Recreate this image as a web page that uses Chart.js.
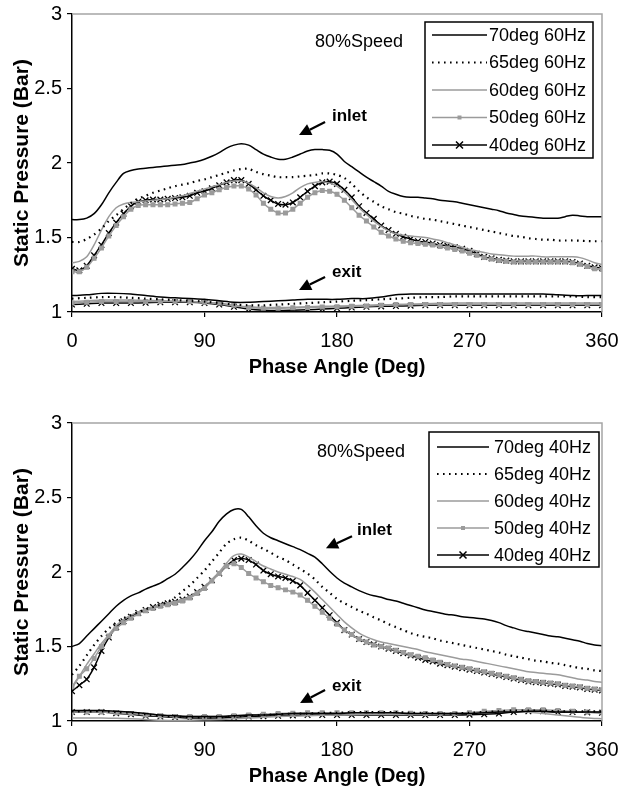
<!DOCTYPE html>
<html><head><meta charset="utf-8">
<script src="https://cdn.jsdelivr.net/npm/chart.js@4.4.0/dist/chart.umd.min.js"></script>
<style>
html,body{margin:0;padding:0;background:#fff;width:619px;height:786px;overflow:hidden;}
.wrap{position:absolute;left:0;width:619px;height:377px;}
#w1{top:0;} #w2{top:409px;}
</style></head><body>
<div class="wrap" id="w1"><canvas id="c1"></canvas></div>
<div class="wrap" id="w2"><canvas id="c2"></canvas></div>
<script>
// ---------- DATA ----------
const phase5 = [0,5,10,15,20,25,30,35,40,45,50,55,60,65,70,75,80,85,90,95,100,105,110,115,
  120,125,130,135,140,145,150,155,160,165,170,175,180,185,190,195,200,205,210,215,220,225,230,235,
  240,245,250,255,260,265,270,275,280,285,290,295,300,305,310,315,320,325,330,335,340,345,350,355,360];
const phase10 = [0,10,20,30,40,50,60,70,80,90,100,110,120,130,140,150,160,170,180,190,200,210,220,230,
  240,250,260,270,280,290,300,310,320,330,340,350,360];
const xTicks = [0,90,180,270,360];
const yTicks = [1,1.5,2,2.5,3];

const labels60 = ['70deg 60Hz','65deg 60Hz','60deg 60Hz','50deg 60Hz','40deg 60Hz'];
const labels40 = ['70deg 40Hz','65deg 40Hz','60deg 40Hz','50deg 40Hz','40deg 40Hz'];

// 60 Hz — inlet
const inlet70_60 = [1.62,1.62,1.63,1.66,1.72,1.80,1.87,1.93,1.95,1.96,1.965,1.97,
  1.975,1.98,1.985,1.99,2.00,2.01,2.025,2.045,2.07,2.10,2.12,2.13,
  2.12,2.09,2.06,2.04,2.025,2.025,2.04,2.06,2.08,2.09,2.09,2.085,
  2.06,2.01,1.975,1.94,1.905,1.875,1.845,1.81,1.79,1.775,1.77,1.77,
  1.765,1.76,1.75,1.745,1.74,1.73,1.72,1.71,1.70,1.69,1.68,1.665,
  1.655,1.645,1.64,1.635,1.63,1.63,1.63,1.64,1.65,1.645,1.64,1.64,
  1.64];
const inlet65_60 = [1.47,1.47,1.49,1.52,1.56,1.61,1.65,1.69,1.73,1.76,1.78,1.80,
  1.815,1.83,1.845,1.855,1.865,1.88,1.89,1.905,1.92,1.935,1.95,1.96,
  1.96,1.94,1.925,1.915,1.905,1.905,1.905,1.91,1.915,1.92,1.93,1.93,
  1.92,1.90,1.86,1.81,1.77,1.74,1.71,1.69,1.67,1.66,1.645,1.635,
  1.625,1.62,1.61,1.60,1.59,1.58,1.57,1.56,1.55,1.54,1.53,1.52,
  1.51,1.505,1.495,1.49,1.485,1.485,1.48,1.48,1.48,1.478,1.476,1.475,
  1.475];
const inlet60_60 = [1.33,1.34,1.37,1.45,1.55,1.64,1.70,1.725,1.735,1.74,1.745,1.75,
  1.755,1.76,1.77,1.78,1.795,1.81,1.825,1.84,1.855,1.87,1.88,1.88,
  1.865,1.835,1.80,1.775,1.765,1.775,1.80,1.835,1.86,1.87,1.875,1.865,
  1.845,1.805,1.755,1.70,1.655,1.61,1.575,1.545,1.525,1.515,1.51,1.505,
  1.50,1.49,1.48,1.465,1.45,1.435,1.42,1.41,1.40,1.39,1.385,1.38,
  1.375,1.375,1.375,1.375,1.37,1.37,1.37,1.37,1.37,1.365,1.35,1.33,
  1.32];
const inlet50_60 = [1.27,1.27,1.30,1.36,1.43,1.51,1.58,1.64,1.69,1.715,1.72,1.72,
  1.72,1.72,1.725,1.73,1.735,1.76,1.785,1.80,1.82,1.835,1.845,1.845,
  1.825,1.785,1.73,1.69,1.665,1.665,1.69,1.73,1.77,1.80,1.815,1.81,
  1.79,1.75,1.70,1.65,1.61,1.57,1.535,1.51,1.49,1.475,1.465,1.46,
  1.455,1.45,1.44,1.43,1.42,1.41,1.395,1.38,1.365,1.355,1.345,1.34,
  1.335,1.335,1.335,1.335,1.335,1.335,1.335,1.335,1.33,1.32,1.305,1.29,
  1.285];
const inlet40_60 = [1.29,1.28,1.31,1.38,1.45,1.53,1.60,1.66,1.71,1.74,1.75,1.755,
  1.755,1.76,1.765,1.77,1.78,1.80,1.81,1.83,1.85,1.87,1.885,1.885,
  1.86,1.82,1.78,1.75,1.725,1.72,1.735,1.77,1.81,1.845,1.87,1.875,
  1.86,1.82,1.77,1.71,1.665,1.625,1.58,1.55,1.525,1.505,1.49,1.475,
  1.47,1.46,1.45,1.445,1.435,1.425,1.41,1.39,1.37,1.36,1.35,1.345,
  1.34,1.34,1.34,1.34,1.34,1.34,1.34,1.34,1.335,1.325,1.31,1.30,
  1.295];
// 60 Hz — exit
const exit70_60 = [1.11,1.115,1.125,1.125,1.12,1.11,1.10,1.095,1.09,1.085,1.075,1.065,
  1.065,1.07,1.075,1.08,1.085,1.085,1.085,1.09,1.09,1.10,1.115,1.12,
  1.12,1.12,1.12,1.12,1.12,1.12,1.12,1.12,1.12,1.115,1.11,1.11,1.11];
const exit65_60 = [1.09,1.095,1.10,1.10,1.095,1.09,1.085,1.08,1.075,1.07,1.06,1.05,
  1.045,1.045,1.05,1.055,1.06,1.065,1.07,1.075,1.08,1.085,1.09,1.095,
  1.10,1.10,1.105,1.105,1.105,1.105,1.105,1.105,1.105,1.105,1.105,1.10,1.10];
const exit60_60 = [1.07,1.075,1.08,1.08,1.08,1.078,1.075,1.072,1.07,1.065,1.055,1.04,
  1.035,1.03,1.03,1.032,1.035,1.038,1.04,1.042,1.045,1.048,1.05,1.052,
  1.055,1.058,1.06,1.06,1.06,1.06,1.06,1.06,1.06,1.06,1.06,1.06,1.06];
const exit50_60 = [1.06,1.065,1.07,1.07,1.07,1.07,1.07,1.07,1.07,1.065,1.06,1.045,
  1.03,1.025,1.025,1.028,1.03,1.033,1.035,1.038,1.04,1.045,1.05,1.05,
  1.05,1.05,1.05,1.05,1.05,1.05,1.05,1.05,1.05,1.05,1.05,1.05,1.05];
const exit40_60 = [1.05,1.055,1.06,1.06,1.06,1.062,1.065,1.065,1.065,1.06,1.05,1.035,
  1.02,1.012,1.01,1.012,1.015,1.02,1.025,1.03,1.035,1.038,1.04,1.042,
  1.045,1.045,1.045,1.045,1.045,1.045,1.045,1.045,1.045,1.045,1.045,1.045,1.045];

// 40 Hz — inlet
const inlet70_40 = [1.50,1.52,1.57,1.62,1.67,1.72,1.77,1.81,1.84,1.86,1.885,1.905,
  1.925,1.955,1.985,2.03,2.08,2.14,2.21,2.27,2.34,2.39,2.42,2.42,
  2.37,2.31,2.26,2.23,2.21,2.19,2.17,2.15,2.125,2.10,2.055,2.005,
  1.96,1.925,1.90,1.875,1.855,1.84,1.83,1.815,1.805,1.79,1.775,1.76,
  1.745,1.735,1.725,1.715,1.71,1.70,1.695,1.69,1.685,1.675,1.66,1.64,
  1.625,1.61,1.60,1.59,1.58,1.57,1.565,1.555,1.545,1.535,1.52,1.51,
  1.505];
const inlet65_40 = [1.31,1.37,1.44,1.51,1.57,1.62,1.66,1.69,1.71,1.73,1.75,1.765,
  1.78,1.80,1.83,1.87,1.91,1.96,2.01,2.07,2.13,2.19,2.22,2.23,
  2.21,2.18,2.155,2.13,2.10,2.08,2.05,2.02,1.99,1.95,1.90,1.86,
  1.82,1.79,1.765,1.74,1.72,1.695,1.675,1.65,1.63,1.61,1.59,1.575,
  1.565,1.555,1.54,1.53,1.52,1.51,1.50,1.49,1.48,1.47,1.46,1.445,
  1.435,1.425,1.415,1.405,1.40,1.39,1.385,1.375,1.365,1.355,1.35,1.34,
  1.335];
const inlet60_40 = [1.22,1.30,1.38,1.45,1.52,1.58,1.64,1.68,1.71,1.73,1.75,1.765,
  1.78,1.79,1.80,1.815,1.835,1.865,1.90,1.95,2.00,2.06,2.11,2.12,
  2.10,2.07,2.04,2.02,2.00,1.985,1.97,1.95,1.91,1.865,1.815,1.765,
  1.715,1.665,1.625,1.59,1.565,1.545,1.53,1.52,1.51,1.50,1.49,1.48,
  1.465,1.455,1.445,1.435,1.425,1.415,1.41,1.40,1.39,1.38,1.37,1.36,
  1.35,1.34,1.33,1.325,1.32,1.315,1.31,1.30,1.29,1.28,1.275,1.265,
  1.26];
const inlet50_40 = [1.23,1.30,1.35,1.42,1.50,1.57,1.62,1.66,1.69,1.72,1.74,1.755,
  1.77,1.78,1.79,1.805,1.825,1.855,1.89,1.94,1.99,2.04,2.055,2.03,
  1.99,1.96,1.935,1.91,1.895,1.88,1.865,1.845,1.81,1.77,1.73,1.69,
  1.65,1.61,1.58,1.55,1.53,1.51,1.50,1.49,1.475,1.46,1.445,1.435,
  1.425,1.41,1.395,1.38,1.37,1.36,1.35,1.34,1.33,1.32,1.31,1.30,
  1.29,1.28,1.27,1.265,1.26,1.255,1.25,1.24,1.235,1.23,1.22,1.215,
  1.21];
const inlet40_40 = [1.20,1.24,1.28,1.36,1.47,1.56,1.63,1.67,1.70,1.725,1.745,1.765,
  1.78,1.79,1.80,1.815,1.835,1.865,1.90,1.945,1.99,2.04,2.08,2.09,
  2.08,2.05,2.01,1.985,1.97,1.96,1.94,1.91,1.86,1.81,1.76,1.71,
  1.66,1.61,1.58,1.55,1.53,1.515,1.50,1.485,1.47,1.455,1.44,1.425,
  1.41,1.40,1.385,1.375,1.365,1.355,1.345,1.335,1.325,1.315,1.305,1.295,
  1.285,1.275,1.265,1.26,1.255,1.25,1.245,1.235,1.23,1.225,1.215,1.21,
  1.205];
// 40 Hz — exit
const exit70_40 = [1.07,1.07,1.07,1.065,1.06,1.05,1.04,1.035,1.03,1.03,1.03,1.035,
  1.04,1.04,1.045,1.05,1.05,1.05,1.05,1.055,1.055,1.055,1.055,1.05,
  1.05,1.05,1.05,1.05,1.055,1.06,1.06,1.065,1.065,1.06,1.06,1.06,1.06];
const exit65_40 = [1.065,1.065,1.065,1.06,1.055,1.045,1.035,1.03,1.025,1.025,1.025,1.03,
  1.035,1.04,1.045,1.05,1.05,1.055,1.055,1.06,1.06,1.06,1.06,1.055,
  1.055,1.05,1.05,1.055,1.06,1.065,1.07,1.07,1.07,1.065,1.065,1.065,1.065];
const exit60_40 = [1.02,1.02,1.02,1.018,1.015,1.01,1.005,1.003,1.005,1.008,1.01,1.015,
  1.02,1.025,1.03,1.032,1.035,1.038,1.04,1.042,1.045,1.045,1.045,1.045,
  1.045,1.048,1.05,1.055,1.06,1.063,1.065,1.06,1.05,1.04,1.03,1.02,1.015];
const exit50_40 = [1.06,1.06,1.06,1.055,1.05,1.04,1.035,1.03,1.03,1.03,1.03,1.035,
  1.04,1.045,1.05,1.052,1.055,1.055,1.055,1.055,1.055,1.055,1.055,1.052,
  1.05,1.05,1.05,1.055,1.065,1.07,1.075,1.075,1.075,1.07,1.065,1.06,1.06];
const exit40_40 = [1.06,1.06,1.06,1.052,1.045,1.035,1.03,1.025,1.02,1.02,1.02,1.025,
  1.03,1.032,1.035,1.038,1.04,1.04,1.04,1.04,1.04,1.04,1.04,1.04,
  1.04,1.04,1.04,1.042,1.045,1.05,1.06,1.065,1.065,1.06,1.06,1.058,1.055];

// ---------- STYLE ----------
const FONT = "'Liberation Sans', Arial, Helvetica, sans-serif";
const GRAY = '#9b9b9b';
const styles = [
  {color:'#000', width:1.5, dash:[], point:null, radius:0},
  {color:'#000', width:2.2, dash:[1.6,4.4], point:null, radius:0},
  {color:GRAY, width:1.5, dash:[], point:null, radius:0},
  {color:GRAY, width:1.5, dash:[], point:'rect', radius:2.6},
  {color:'#000', width:1.5, dash:[], point:'crossRot', radius:4}
];

function xy(xs, ys){ return xs.map((x,i)=>({x:x, y:ys[i]})); }

function buildDatasets(labels, inlets, exits){
  const ds = [];
  inlets.forEach((arr,i)=>{
    const s = styles[i];
    ds.push({label:labels[i], data:xy(phase5, arr), borderColor:s.color, borderWidth:s.width,
      borderDash:s.dash, pointStyle:s.point||'circle', pointRadius:s.radius,
      pointBackgroundColor:s.color, pointBorderColor:s.color, pointBorderWidth:1.3,
      tension:0.3, fill:false});
  });
  exits.forEach((arr,i)=>{
    const s = styles[i];
    ds.push({label:labels[i]+' exit', data:xy(phase10, arr), borderColor:s.color, borderWidth:s.width,
      borderDash:s.dash, pointStyle:s.point||'circle', pointRadius:s.radius,
      pointBackgroundColor:s.color, pointBorderColor:s.color, pointBorderWidth:1.3,
      tension:0.3, fill:false});
  });
  return ds;
}

function arrow(ctx, x1, y1, x2, y2){
  const ang = Math.atan2(y2-y1, x2-x1);
  const L = 12, W = 6;
  const bx = x2 - L*Math.cos(ang), by = y2 - L*Math.sin(ang);
  ctx.beginPath(); ctx.moveTo(x1,y1); ctx.lineTo(bx,by);
  ctx.lineWidth = 2.2; ctx.strokeStyle='#000'; ctx.stroke();
  ctx.beginPath(); ctx.moveTo(x2,y2);
  ctx.lineTo(bx + W*Math.sin(ang), by - W*Math.cos(ang));
  ctx.lineTo(bx - W*Math.sin(ang), by + W*Math.cos(ang));
  ctx.closePath(); ctx.fillStyle='#000'; ctx.fill();
}

const decor = {
  id:'decor',
  afterDraw(chart, args, o){
    const {ctx, chartArea:ca, scales:{x, y}} = chart;
    ctx.save();
    // gray frame on top/right
    ctx.strokeStyle = '#a5a5a5'; ctx.lineWidth = 1.5;
    ctx.beginPath(); ctx.moveTo(ca.left, ca.top); ctx.lineTo(ca.right, ca.top); ctx.lineTo(ca.right, ca.bottom); ctx.stroke();
    // notes
    ctx.fillStyle='#000'; ctx.textBaseline='middle'; ctx.textAlign='left';
    ctx.font = '18px ' + FONT;
    ctx.fillText('80%Speed', x.getPixelForValue(o.speed[0]), y.getPixelForValue(o.speed[1]));
    ctx.font = 'bold 17px ' + FONT;
    ctx.fillText('inlet', x.getPixelForValue(o.inlet[0]), y.getPixelForValue(o.inlet[1]));
    ctx.fillText('exit', x.getPixelForValue(o.exit[0]), y.getPixelForValue(o.exit[1]));
    arrow(ctx, x.getPixelForValue(o.inletArrow[0]), y.getPixelForValue(o.inletArrow[1]),
               x.getPixelForValue(o.inletArrow[2]), y.getPixelForValue(o.inletArrow[3]));
    arrow(ctx, x.getPixelForValue(o.exitArrow[0]), y.getPixelForValue(o.exitArrow[1]),
               x.getPixelForValue(o.exitArrow[2]), y.getPixelForValue(o.exitArrow[3]));
    // legend box
    const lb = o.legend;
    const left = ca.right - lb.insetRight - lb.w, top = ca.top + lb.insetTop;
    ctx.fillStyle = '#fff'; ctx.fillRect(left, top, lb.w, lb.h);
    ctx.strokeStyle = '#000'; ctx.lineWidth = 1.5; ctx.strokeRect(left, top, lb.w, lb.h);
    o.labels.forEach((lab, i)=>{
      const s = styles[i];
      const yy = top + lb.first + i*lb.step;
      ctx.beginPath(); ctx.setLineDash(s.dash); ctx.strokeStyle = s.color; ctx.lineWidth = s.width;
      ctx.moveTo(left+lb.l0, yy); ctx.lineTo(left+lb.l1, yy); ctx.stroke(); ctx.setLineDash([]);
      const cx = left + (lb.l0+lb.l1)/2;
      if (s.point === 'rect'){
        ctx.fillStyle = s.color; ctx.fillRect(cx-2, yy-2, 4, 4);
      } else if (s.point === 'crossRot'){
        ctx.beginPath(); ctx.strokeStyle = s.color; ctx.lineWidth = 1.5;
        ctx.moveTo(cx-3.5, yy-3.5); ctx.lineTo(cx+3.5, yy+3.5);
        ctx.moveTo(cx-3.5, yy+3.5); ctx.lineTo(cx+3.5, yy-3.5); ctx.stroke();
      }
      ctx.fillStyle = '#000'; ctx.font = '18px ' + FONT; ctx.textAlign='left'; ctx.textBaseline='middle';
      ctx.fillText(lab, left + lb.tx, yy + 1);
    });
    ctx.restore();
  }
};

function makeChart(id, labels, inlets, exits, notes){
  return new Chart(document.getElementById(id), {
    type:'line',
    data:{datasets: buildDatasets(labels, inlets, exits)},
    plugins:[decor],
    options:{
      responsive:true, maintainAspectRatio:false, animation:false,
      layout:{padding:{top:14, right:17, left:0, bottom:0}},
      plugins:{legend:{display:false}, tooltip:{enabled:false}, decor: Object.assign({labels:labels}, notes)},
      scales:{
        x:{type:'linear', min:0, max:360,
          afterBuildTicks(s){ s.ticks = xTicks.map(v=>({value:v})); },
          ticks:{color:'#000', font:{family:FONT, size:20}, padding:12, maxRotation:0, autoSkip:false,
                 callback:(v)=>String(v)},
          grid:{display:true, drawOnChartArea:false, drawTicks:true, tickLength:5, color:'#000', lineWidth:1.2},
          border:{display:true, color:'#000', width:1.5},
          title:{display:true, text:'Phase Angle (Deg)', color:'#000', font:{family:FONT, size:20, weight:'bold', lineHeight:1}, padding:{top:0, bottom:0}},
          afterFit(s){ s.height = 65; s.paddingLeft = 0; s.paddingRight = 0; }
        },
        y:{type:'linear', min:1, max:3,
          afterBuildTicks(s){ s.ticks = yTicks.map(v=>({value:v})); },
          ticks:{color:'#000', font:{family:FONT, size:20}, padding:5, callback:(v)=>String(v)},
          grid:{display:true, drawOnChartArea:false, drawTicks:true, tickLength:5, color:'#000', lineWidth:1.2},
          border:{display:true, color:'#000', width:1.5},
          title:{display:true, text:'Static Pressure (Bar)', color:'#000', font:{family:FONT, size:21, weight:'bold', lineHeight:1}, padding:{top:12, bottom:0}},
          afterFit(s){ s.width = 72; s.paddingTop = 0; s.paddingBottom = 0; }
        }
      }
    }
  });
}

makeChart('c1', labels60,
  [inlet70_60, inlet65_60, inlet60_60, inlet50_60, inlet40_60],
  [exit70_60, exit65_60, exit60_60, exit50_60, exit40_60],
  {speed:[165, 2.81], inlet:[176.6, 2.31], exit:[176.6, 1.268],
   inletArrow:[171.9, 2.275, 154.2, 2.188], exitArrow:[171.9, 1.235, 154.2, 1.148],
   legend:{insetRight:9, insetTop:8, w:168, h:136, first:13, step:27.5, l0:7, l1:62, tx:64}});

makeChart('c2', labels40,
  [inlet70_40, inlet65_40, inlet60_40, inlet50_40, inlet40_40],
  [exit70_40, exit65_40, exit60_40, exit50_40, exit40_40],
  {speed:[166.4, 2.805], inlet:[193.6, 2.28], exit:[176.6, 1.235],
   inletArrow:[190.2, 2.24, 172.5, 2.16], exitArrow:[171.9, 1.208, 154.9, 1.12],
   legend:{insetRight:3, insetTop:9, w:170, h:135, first:15, step:27, l0:8, l1:60, tx:65}});
</script>
</body></html>
